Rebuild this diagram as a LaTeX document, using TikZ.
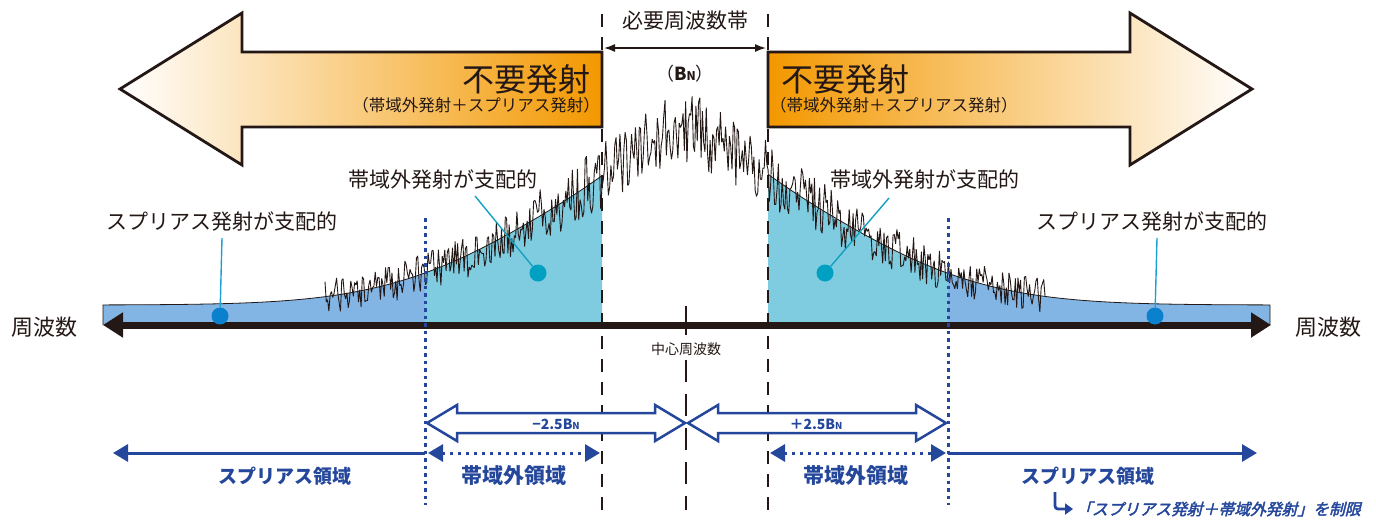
\documentclass[tikz,border=0pt]{standalone}
\usepackage{fontspec}
\setmainfont{Noto Sans CJK JP}
\newfontfamily\notefont[FakeSlant=0.25,FakeBold=2.5]{Noto Sans CJK JP}
\usetikzlibrary{arrows.meta}
\definecolor{hotorange}{HTML}{F39800}
\definecolor{oobcyan}{HTML}{7FCBDF}
\definecolor{spurblue}{HTML}{82B5E4}
\definecolor{regblue}{HTML}{24479B}
\definecolor{leadblue}{HTML}{1E9FD4}
\definecolor{leadcyan}{HTML}{12A0BF}
\definecolor{dotblue}{HTML}{0B80CC}
\definecolor{dotcyan}{HTML}{00A0C3}
\definecolor{ink}{HTML}{231815}
\newcommand{\fsz}[1]{\fontsize{#1}{#1}\selectfont}
\tikzset{>=latex,
  lbl/.style={inner sep=0pt, text=ink},
  reglbl/.style={inner sep=0pt, text=regblue, font=\bfseries\fsz{19}},
  cutline/.style={ink, line width=2.4pt, dash pattern=on 13pt off 10pt},
  limline/.style={regblue, line width=3pt, dash pattern=on 3.5pt off 4pt},
  envline/.style={ink, line width=0.8pt},
  noiseline/.style={ink, line width=0.9pt, line join=bevel},
  leader/.style={line width=1.4pt},
  bigarrow/.style={draw=ink, line width=2.8pt},
  region/.style={regblue, line width=3pt},
  regdots/.style={regblue, line width=3pt, dash pattern=on 3pt off 5pt},
  regtip/.style={-{Triangle[length=15pt,width=17pt]}},
  regtips/.style={{Triangle[length=15pt,width=17pt]}-{Triangle[length=15pt,width=17pt]}}
}
\newcommand{\spot}[4]{
    \node[circle, inner sep=0pt, minimum size=17pt, fill=#1] (#2) at (#3,#4) {};
}
\newcommand{\hollowarrow}[3]{
    \filldraw[fill=white, draw=regblue, line width=2.5pt]
      (#1,#3) -- ++(30,-18) -- ++(0,8) -- ({#2-30},{#3-10}) -- ++(0,-8)
      -- (#2,#3) -- ++(-30,18) -- ++(0,-8) -- ({#1+30},{#3+10}) -- ++(0,8) -- cycle;
}

\begin{document}
\begin{tikzpicture}[x=1pt, y=-1pt,
    declare function={hgt(\x)=20+140*exp(-min((abs(\x-686)/215)^2,12))+32*exp(-min((abs(\x-686)/75)^2,12));}]
    \useasboundingbox (0,0) rectangle (1376,522);
    \pgfmathsetseed{4711}

    \shadedraw[bigarrow, left color=white, middle color=hotorange!45!white, right color=hotorange]
      (602,52) -- (242,52) -- (242,13) -- (120,89) -- (242,165) -- (242,127) -- (602,127) -- cycle;
    \shadedraw[bigarrow, left color=hotorange, middle color=hotorange!45!white, right color=white]
      (768,52) -- (1130,52) -- (1130,13) -- (1252,89) -- (1130,165) -- (1130,127) -- (768,127) -- cycle;
    \node[lbl, anchor=east, font=\fsz{32}] (unwantL) at (591,79) {不要発射};
    \node[lbl, anchor=east, font=\fsz{16.5}] (unwantLsub) at (600,105) {（帯域外発射＋スプリアス発射）};
    \node[lbl, anchor=west, font=\fsz{32}] (unwantR) at (781,79) {不要発射};
    \node[lbl, anchor=west, font=\fsz{16.5}] (unwantRsub) at (770,105) {（帯域外発射＋スプリアス発射）};

    \fill[spurblue] (103,325) -- plot[domain=103:425, samples=80] (\x,{325-hgt(\x)}) -- (425,325) -- cycle;
    \fill[oobcyan] (425,325) -- plot[domain=425:602, samples=60] (\x,{325-hgt(\x)}) -- (602,325) -- cycle;
    \fill[oobcyan] (768,325) -- plot[domain=768:948, samples=60] (\x,{325-hgt(\x)}) -- (948,325) -- cycle;
    \fill[spurblue] (948,325) -- plot[domain=948:1270, samples=80] (\x,{325-hgt(\x)}) -- (1270,325) -- cycle;
    \draw[noiseline] plot[domain=325:1045, samples=560] (\x,{325-hgt(\x)+(16+0.13*(hgt(\x)-20))*rand});
    \draw[envline] (103,325) -- plot[domain=103:602, samples=120] (\x,{325-hgt(\x)});
    \draw[envline] plot[domain=768:1270, samples=120] (\x,{325-hgt(\x)}) -- (1270,325);

    \coordinate (axL) at (103,325);
    \coordinate (axR) at (1271,325);
    \draw[ink, line width=7pt, {Triangle[length=20pt,width=24pt]}-{Triangle[length=20pt,width=24pt]}] (axL) -- (axR);
    \node[lbl, font=\fsz{22}] (freqL) at (45,327) {周波数};
    \node[lbl, font=\fsz{22}] (freqR) at (1328,327) {周波数};

    \draw[cutline] (602,14) -- (602,510);
    \draw[cutline] (768,14) -- (768,510);
    \draw[limline] (425,218) -- (425,505);
    \draw[limline] (948,218) -- (948,505);
    \draw[ink, line width=2.6pt] (686,306) -- (686,335);
    \draw[ink, line width=2.6pt, dash pattern=on 22pt off 12pt] (686,360) -- (686,510);
    \node[lbl, font=\fsz{14}] (fc) at (686,349) {中心周波数};

    \node[lbl, font=\fsz{21}] (needbw) at (685,21) {必要周波数帯};
    \coordinate (bwL) at (604,48);
    \coordinate (bwR) at (766,48);
    \draw[ink, line width=1.5pt, {Latex[length=11pt,width=8pt]}-{Latex[length=11pt,width=8pt]}] (bwL) -- (bwR);
    \node[lbl, font=\fsz{18}] (bn) at (685,74) {（\textbf{B}{\fsz{12}\textbf{N}}）};

    \node[lbl, font=\fsz{21}] (spurtxtL) at (222,222) {スプリアス発射が支配的};
    \node[lbl, font=\fsz{21}] (oobtxtL) at (443,180) {帯域外発射が支配的};
    \node[lbl, font=\fsz{21}] (oobtxtR) at (925,180) {帯域外発射が支配的};
    \node[lbl, font=\fsz{21}] (spurtxtR) at (1152,222) {スプリアス発射が支配的};
    \coordinate (spurtipL) at (222,238);
    \coordinate (oobtipL) at (475,196);
    \coordinate (oobtipR) at (889,198);
    \coordinate (spurtipR) at (1157,238);
    \spot{dotblue}{spurdotL}{220}{316}
    \spot{dotcyan}{oobdotL}{538}{273}
    \spot{dotcyan}{oobdotR}{825}{273}
    \spot{dotblue}{spurdotR}{1155}{316}
    \draw[leader, leadblue] (spurdotL) -- (spurtipL);
    \draw[leader, leadcyan] (oobdotL) -- (oobtipL);
    \draw[leader, leadcyan] (oobdotR) -- (oobtipR);
    \draw[leader, leadblue] (spurdotR) -- (spurtipR);

    \hollowarrow{427}{685}{423}
    \hollowarrow{688}{946}{423}
    \node[lbl, text=regblue, font=\bfseries\fsz{14}] (minus) at (556,424) {−2.5B{\fsz{9.5}N}};
    \node[lbl, text=regblue, font=\bfseries\fsz{14}] (plus) at (816,424) {＋2.5B{\fsz{9.5}N}};

    \coordinate (spurendL) at (113,453);
    \coordinate (limL) at (425,453);
    \coordinate (oobL1) at (428,453);
    \coordinate (oobL2) at (600,453);
    \coordinate (oobR1) at (770,453);
    \coordinate (oobR2) at (946,453);
    \coordinate (limR) at (948,453);
    \coordinate (spurendR) at (1257,453);
    \draw[region, regtip] (limL) -- (spurendL);
    \draw[regdots, regtips] (oobL1) -- (oobL2);
    \draw[regdots, regtips] (oobR1) -- (oobR2);
    \draw[region, regtip] (limR) -- (spurendR);
    \node[reglbl] (spurregL) at (285,476) {スプリアス領域};
    \node[reglbl, font=\bfseries\fsz{21}] (oobregL) at (514,476) {帯域外領域};
    \node[reglbl, font=\bfseries\fsz{21}] (oobregR) at (856,476) {帯域外領域};
    \node[reglbl] (spurregR) at (1088,476) {スプリアス領域};

    \node[lbl, anchor=west, text=regblue, font=\notefont\fsz{15.8}] (note) at (1076,509) {「スプリアス発射＋帯域外発射」を制限};
    \coordinate (hook) at (1055,492);
    \draw[regblue, line width=2.8pt, rounded corners=3pt, -{Triangle[length=8pt,width=11pt]}] (hook) |- ([xshift=-3pt]note.west);
\end{tikzpicture}
\end{document}
